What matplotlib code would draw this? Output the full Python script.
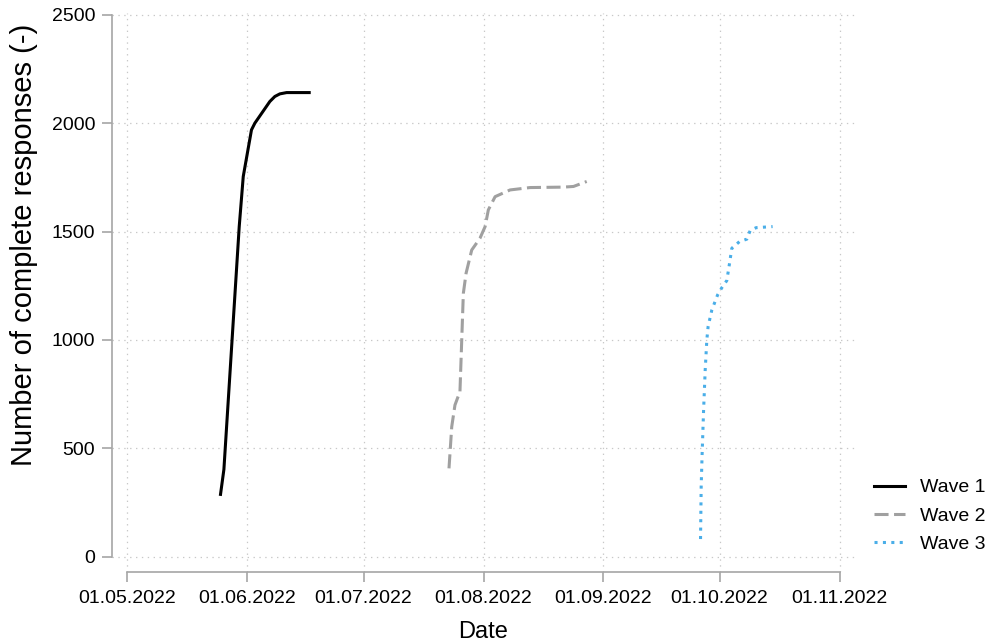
import numpy as np
import pandas as pd
import matplotlib
matplotlib.use("Agg")
import matplotlib.pyplot as plt
import matplotlib.dates as mdates

plt.rcParams['font.family'] = ['Liberation Sans', 'DejaVu Sans']

# Wave 1
wave1_dates = ["2022-05-25 01:00", "2022-05-25 22:00", "2022-05-29 21:00", "2022-05-30 22:00",
               "2022-06-02 01:00", "2022-06-02 22:00", "2022-06-06 19:00", "2022-06-08 02:00",
               "2022-06-09 09:00", "2022-06-11 03:00", "2022-06-16 23:00"]
wave1_counts = [288, 403, 1523, 1754, 1969, 2000, 2100, 2123, 2135, 2141, 2141]

# Wave 2
wave2_dates = ["2022-07-23 02:00", "2022-07-23 19:00", "2022-07-24 15:00", "2022-07-25 22:00",
               "2022-07-26 09:00", "2022-07-26 19:00", "2022-07-27 12:00", "2022-07-28 23:00",
               "2022-07-31 02:00", "2022-08-01 10:00", "2022-08-02 06:00", "2022-08-04 00:00",
               "2022-08-07 21:00", "2022-08-13 01:00", "2022-08-21 16:00", "2022-08-24 06:00",
               "2022-08-27 16:00"]
wave2_counts = [408, 600, 700, 762, 1000, 1215, 1308, 1415, 1469, 1523, 1600, 1661,
                1692, 1703, 1705, 1708, 1731]

# Wave 3
wave3_dates = ["2022-09-26 02:00", "2022-09-26 06:00", "2022-09-26 12:00", "2022-09-26 21:00",
               "2022-09-27 07:00", "2022-09-27 17:00", "2022-09-28 01:00", "2022-09-29 00:00",
               "2022-09-30 12:00", "2022-10-01 14:00", "2022-10-02 21:00", "2022-10-03 14:00",
               "2022-10-04 04:00", "2022-10-06 04:00", "2022-10-08 01:00", "2022-10-08 22:00",
               "2022-10-10 11:00", "2022-10-14 17:00"]
wave3_counts = [82, 323, 477, 677, 862, 1000, 1062, 1138, 1208, 1241, 1274, 1354,
                1423, 1454, 1465, 1505, 1518, 1523]

x_ticks = pd.date_range("2022-05-01", "2022-11-01", freq="MS")
y_ticks = [0, 500, 1000, 1500, 2000, 2500]

axis_gray = "#a6a6a6"
grid_gray = "#c8c8c8"

fig = plt.figure(figsize=(9.87, 6.42), dpi=100)
ax = fig.add_axes([112 / 987, 1 - 572 / 642, (855 - 112) / 987, (572 - 13) / 642])

ax.plot(pd.to_datetime(wave1_dates), wave1_counts, color="black", lw=2.2,
        label="Wave 1")
ax.plot(pd.to_datetime(wave2_dates), wave2_counts, color="#a0a0a0", lw=2.2,
        linestyle=(0, (4.6, 1.8)), label="Wave 2")
ax.plot(pd.to_datetime(wave3_dates), wave3_counts, color="#4aaee8", lw=2.2,
        linestyle=(0, (1.0, 1.75)), label="Wave 3")

ax.set_xlim(x_ticks[0] - pd.Timedelta(days=4), x_ticks[-1] + pd.Timedelta(days=4))
ax.set_ylim(-70, 2508)
ax.set_xticks(x_ticks)
ax.xaxis.set_major_formatter(mdates.DateFormatter("%d.%m.%Y"))
ax.set_yticks(y_ticks)

ax.grid(True, color=grid_gray, lw=0.9, linestyle=(0, (1.1, 3.6)))
ax.set_axisbelow(True)

for s in ["top", "right"]:
    ax.spines[s].set_visible(False)
for s in ["left", "bottom"]:
    ax.spines[s].set_color(axis_gray)
    ax.spines[s].set_linewidth(1.2)
ax.spines["left"].set_bounds(0, 2500)
ax.spines["bottom"].set_bounds(mdates.date2num(x_ticks[0]), mdates.date2num(x_ticks[-1]))

ax.tick_params(axis="both", colors=axis_gray, labelcolor="black", labelsize=14,
               width=1.2, length=7)
ax.tick_params(axis="x", pad=6)
ax.tick_params(axis="y", pad=5)

ax.set_xlabel("Date", fontsize=17, labelpad=10)
ax.set_ylabel("Number of complete responses (-)", fontsize=21)
ax.yaxis.set_label_coords(-0.1, 0.585)

fig.legend(loc="center left", bbox_to_anchor=(874 / 987, 1 - 516 / 642),
           frameon=False, fontsize=14, handlelength=1.6, handletextpad=0.75,
           labelspacing=0.55, borderaxespad=0, borderpad=0)

fig.savefig("out.png", dpi=100)
